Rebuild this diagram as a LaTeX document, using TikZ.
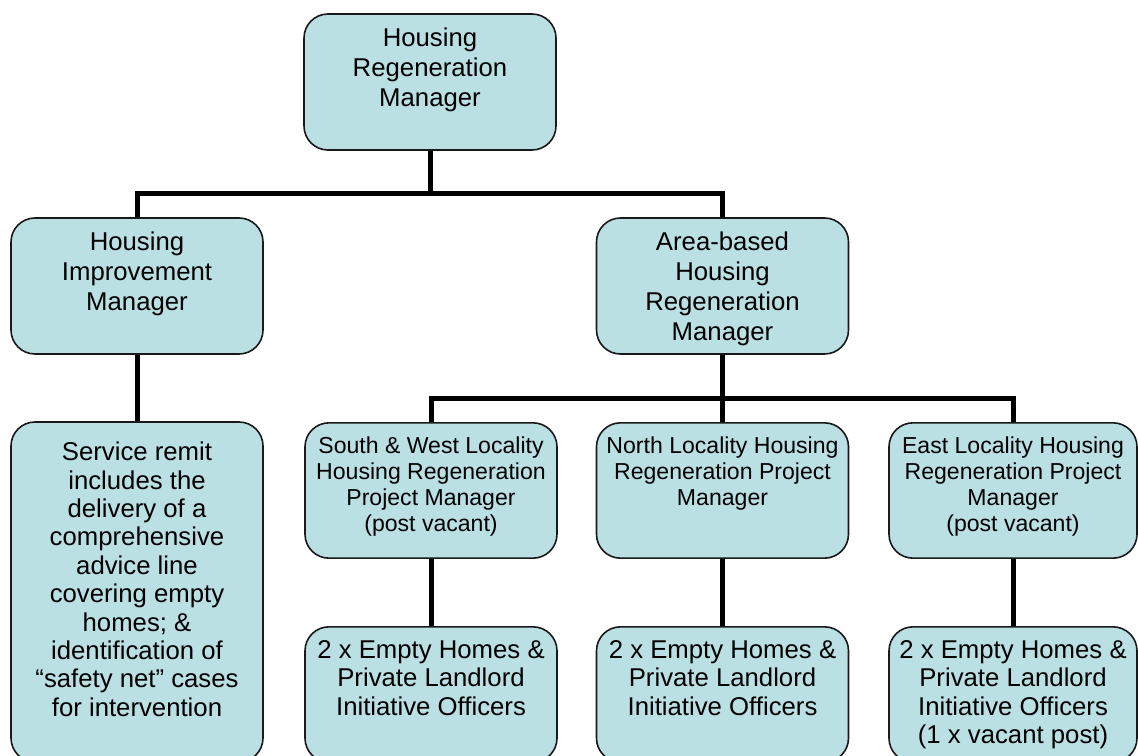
\documentclass[tikz,border=0pt]{standalone}
\usepackage{fontspec}
\setmainfont{Liberation Sans}
\usetikzlibrary{positioning}
\definecolor{boxfill}{RGB}{186,224,228}

\tikzset{
  unit/.style={draw=black!90,line width=1.2pt,rounded corners=18pt,fill=boxfill,
    minimum width=189pt,minimum height=102pt,inner sep=0pt},
  lbl/.style={font=\fontsize{19.3}{22.5}\selectfont,align=center,inner sep=0pt},
  lbllow/.style={font=\fontsize{19.3}{21.3}\selectfont,align=center,inner sep=0pt},
  lblsmall/.style={font=\fontsize{17.3}{19.4}\selectfont,align=center,inner sep=0pt},
  link/.style={line width=3.75pt}
}

\begin{document}
\begin{tikzpicture}[x=0.75pt,y=-0.75pt]
\clip (0,0) rectangle (1138,756);
% boxes
\node[unit] (top) at (430,82) {};
\node[unit] (impr) at (137,286) {};
\node[unit] (area) at (722.5,286) {};
\node[unit,minimum height=255pt] (adv) at (137,592) {};
\node[unit,minimum height=101.5pt] (sw) at (431,490.5) {};
\node[unit,minimum height=101.5pt] (nth) at (722.5,490.5) {};
\node[unit,minimum height=101.5pt,minimum width=186pt] (east) at (1013,490.5) {};
\node[unit,minimum height=101.5pt] (swOff) at (431,694.5) {};
\node[unit,minimum height=101.5pt] (nthOff) at (722.5,694.5) {};
\node[unit,minimum height=101.5pt,minimum width=186pt] (eastOff) at (1013,694.5) {};
% texts
\node[lbl,below=10.5pt of top.north] (topLbl) {Housing\\Regeneration\\Manager};
\node[lbl,below=11pt of impr.north] (imprLbl) {Housing\\Improvement\\Manager};
\node[lbl,below=11pt of area.north] (areaLbl) {Area-based\\Housing\\Regeneration\\Manager};
\node[lbllow,below=15.5pt of adv.north] (advLbl) {Service remit\\includes the\\delivery of a\\comprehensive\\advice line\\covering empty\\homes; \&\\identification of\\“safety net” cases\\for intervention};
\node[lblsmall,below=11pt of sw.north] (swLbl) {South \& West Locality\\Housing Regeneration\\Project Manager\\(post vacant)};
\node[lblsmall,below=11pt of nth.north] (nthLbl) {North Locality Housing\\Regeneration Project\\Manager};
\node[lblsmall,below=11pt of east.north] (eastLbl) {East Locality Housing\\Regeneration Project\\Manager\\(post vacant)};
\node[lbllow,below=10.5pt of swOff.north] (swOffLbl) {2 x Empty Homes \&\\Private Landlord\\Initiative Officers};
\node[lbllow,below=10.5pt of nthOff.north] (nthOffLbl) {2 x Empty Homes \&\\Private Landlord\\Initiative Officers};
\node[lbllow,below=10.5pt of eastOff.north] (eastOffLbl) {2 x Empty Homes \&\\Private Landlord\\Initiative Officers\\(1 x vacant post)};
% connectors
\coordinate (busA) at (0,193);
\coordinate (busB) at (0,398);
\draw[link] (top.south) -- (top.south |- busA);
\draw[link] (impr.north) |- (area.north |- busA) -- (area.north);
\draw[link] (impr.south) -- (adv.north);
\draw[link] (area.south) -- (nth.north);
\draw[link] (sw.north) |- (east.north |- busB) -- (east.north);
\draw[link] (sw.south) -- (swOff.north);
\draw[link] (nth.south) -- (nthOff.north);
\draw[link] (east.south) -- (eastOff.north);
\end{tikzpicture}
\end{document}
